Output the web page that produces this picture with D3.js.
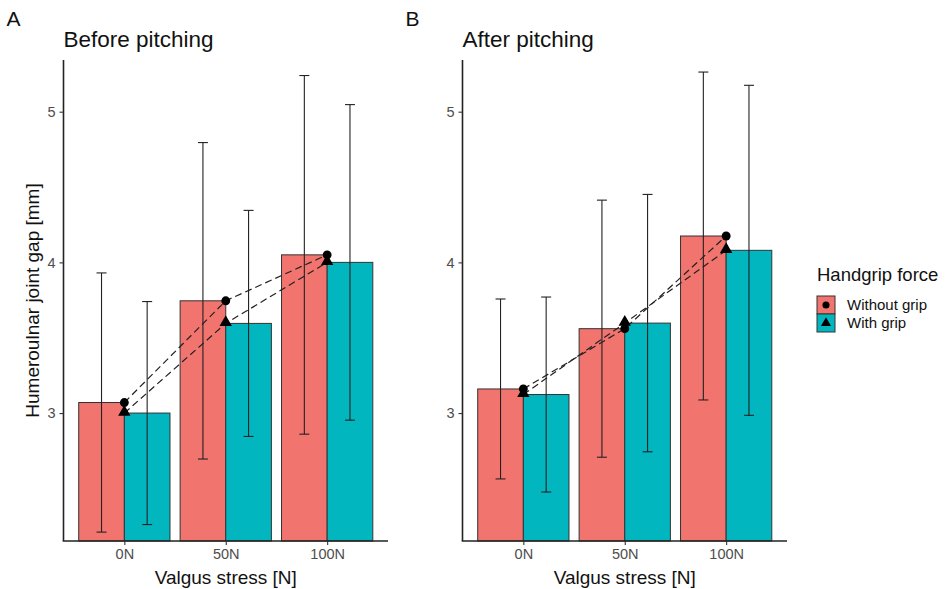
<!DOCTYPE html>
<html>
<head>
<meta charset="utf-8">
<script src="https://cdn.jsdelivr.net/npm/d3@7"></script>
<style>
  body { margin: 0; background: #fff; }
  svg { font-family: "Liberation Sans", Arial, sans-serif; }
</style>
</head>
<body>
<script>
// data (mean and sd, mm)
var stress = ["0N", "50N", "100N"];
var grip = ["Without grip", "With grip"];
var yTicks = [3, 4, 5];

var beforeWithout = [3.07, 3.745, 4.05];
var beforeWithoutSd = [0.86, 1.05, 1.19];
var beforeWith = [3.00, 3.595, 4.00];
var beforeWithSd = [0.74, 0.75, 1.047];

var afterWithout = [3.16, 3.56, 4.175];
var afterWithoutSd = [0.597, 0.853, 1.088];
var afterWith = [3.123, 3.597, 4.08];
var afterWithSd = [0.647, 0.854, 1.095];

var colors = ["#F1746F", "#02B6BF"];

var W = 950, H = 589;
var plotTop = 60, plotBottom = 541;

var svg = d3.select("body").append("svg")
    .attr("width", W)
    .attr("height", H);

var y = d3.scaleLinear().domain([2.151, 5.343]).range([plotBottom, plotTop]);

function drawPanel(left, right, tag, title, withoutM, withoutSd, withM, withSd, yTitle) {
    var g = svg.append("g");
    // discrete x with ggplot-like 0.6 expansion
    var xl = d3.scaleLinear().domain([0.4, 3.6]).range([left, right]);
    var step = xl(2) - xl(1);
    var barW = step * 0.45;

    var rows = [];
    stress.forEach(function (s, i) {
        rows.push({i: i, grp: 0, m: withoutM[i], sd: withoutSd[i]});
        rows.push({i: i, grp: 1, m: withM[i], sd: withSd[i]});
    });
    function cx(d) { return xl(d.i + 1) + (d.grp === 0 ? -barW / 2 : barW / 2); }

    g.selectAll("rect.bar").data(rows).enter().append("rect")
        .attr("class", "bar")
        .attr("x", function (d) { return cx(d) - barW / 2; })
        .attr("width", barW)
        .attr("y", function (d) { return y(d.m); })
        .attr("height", function (d) { return plotBottom - y(d.m); })
        .attr("fill", function (d) { return colors[d.grp]; })
        .attr("stroke", "#333")
        .attr("stroke-width", 1);

    // error bars
    var eb = g.selectAll("g.eb").data(rows).enter().append("g")
        .attr("stroke", "#222").attr("stroke-width", 1.1);
    eb.append("line")
        .attr("x1", cx).attr("x2", cx)
        .attr("y1", function (d) { return y(d.m + d.sd); })
        .attr("y2", function (d) { return y(d.m - d.sd); });
    eb.append("line")
        .attr("x1", function (d) { return cx(d) - 5; })
        .attr("x2", function (d) { return cx(d) + 5; })
        .attr("y1", function (d) { return y(d.m + d.sd); })
        .attr("y2", function (d) { return y(d.m + d.sd); });
    eb.append("line")
        .attr("x1", function (d) { return cx(d) - 5; })
        .attr("x2", function (d) { return cx(d) + 5; })
        .attr("y1", function (d) { return y(d.m - d.sd); })
        .attr("y2", function (d) { return y(d.m - d.sd); });

    // dashed lines through the group means
    var line = d3.line()
        .x(function (d, i) { return xl(i + 1); })
        .y(function (d) { return y(d); });
    [withoutM, withM].forEach(function (arr) {
        g.append("path")
            .attr("d", line(arr))
            .attr("fill", "none")
            .attr("stroke", "#222")
            .attr("stroke-width", 1.2)
            .attr("stroke-dasharray", "7,4");
    });

    var circ = d3.symbol().type(d3.symbolCircle).size(62);
    var tri = d3.symbol().type(d3.symbolTriangle).size(66);
    g.selectAll("path.pw").data(withoutM).enter().append("path")
        .attr("d", circ)
        .attr("transform", function (d, i) { return "translate(" + xl(i + 1) + "," + y(d) + ")"; })
        .attr("fill", "#000");
    g.selectAll("path.pg").data(withM).enter().append("path")
        .attr("d", tri)
        .attr("transform", function (d, i) { return "translate(" + xl(i + 1) + "," + (y(d) - 1) + ")"; })
        .attr("fill", "#000");

    // axes
    var yAxis = g.append("g")
        .attr("transform", "translate(" + left + ",0)")
        .call(d3.axisLeft(y).tickValues(yTicks).tickFormat(d3.format("d"))
            .tickSize(4).tickPadding(4));
    var xAxis = g.append("g")
        .attr("transform", "translate(0," + plotBottom + ")")
        .call(d3.axisBottom(xl).tickValues([1, 2, 3])
            .tickFormat(function (d) { return stress[d - 1]; })
            .tickSize(4).tickPadding(4));
    [yAxis, xAxis].forEach(function (a) {
        a.select(".domain").attr("stroke", "#222").attr("stroke-width", 1.6);
        a.selectAll(".tick line").attr("stroke", "#333").attr("stroke-width", 1.1);
        a.selectAll(".tick text").attr("fill", "#4d4d4d").style("font-size", "14.5px");
    });
    xAxis.select(".domain").attr("d", "M" + (left - 0.8) + ",0H" + right);
    yAxis.select(".domain").attr("d", "M0," + plotTop + "V" + plotBottom);

    g.append("text")
        .attr("x", (left + right) / 2)
        .attr("y", 584)
        .attr("text-anchor", "middle")
        .style("font-size", "19px")
        .attr("fill", "#111")
        .text("Valgus stress [N]");

    if (yTitle) {
        g.append("text")
            .attr("transform", "translate(39," + (plotTop + plotBottom) / 2 + ") rotate(-90)")
            .attr("text-anchor", "middle")
            .style("font-size", "19px")
            .attr("fill", "#111")
            .text(yTitle);
    }

    g.append("text")
        .attr("x", left)
        .attr("y", 47)
        .style("font-size", "22.5px")
        .attr("fill", "#111")
        .text(title);
    g.append("text")
        .attr("x", left - 57)
        .attr("y", 26)
        .style("font-size", "21px")
        .attr("fill", "#111")
        .text(tag);
}

drawPanel(63.5, 388, "A", "Before pitching",
    beforeWithout, beforeWithoutSd, beforeWith, beforeWithSd, "Humeroulnar joint gap [mm]");
drawPanel(462.5, 787, "B", "After pitching",
    afterWithout, afterWithoutSd, afterWith, afterWithSd, null);

// legend
var leg = svg.append("g").attr("transform", "translate(817,0)");
leg.append("text")
    .attr("x", 0).attr("y", 281)
    .style("font-size", "18.5px")
    .attr("fill", "#111")
    .text("Handgrip force");
var keys = leg.selectAll("g.key").data(grip).enter().append("g")
    .attr("transform", function (d, i) { return "translate(0," + (296 + i * 18) + ")"; });
keys.append("rect")
    .attr("width", 18).attr("height", 18)
    .attr("fill", function (d, i) { return colors[i]; })
    .attr("stroke", "#333").attr("stroke-width", 1);
keys.append("path")
    .attr("d", function (d, i) {
        return d3.symbol().type(i === 0 ? d3.symbolCircle : d3.symbolTriangle).size(i === 0 ? 40 : 44)();
    })
    .attr("transform", "translate(9,9)")
    .attr("fill", "#000");
keys.append("text")
    .attr("x", 30).attr("y", 14)
    .style("font-size", "15px")
    .attr("fill", "#111")
    .text(function (d) { return d; });
</script>
</body>
</html>
